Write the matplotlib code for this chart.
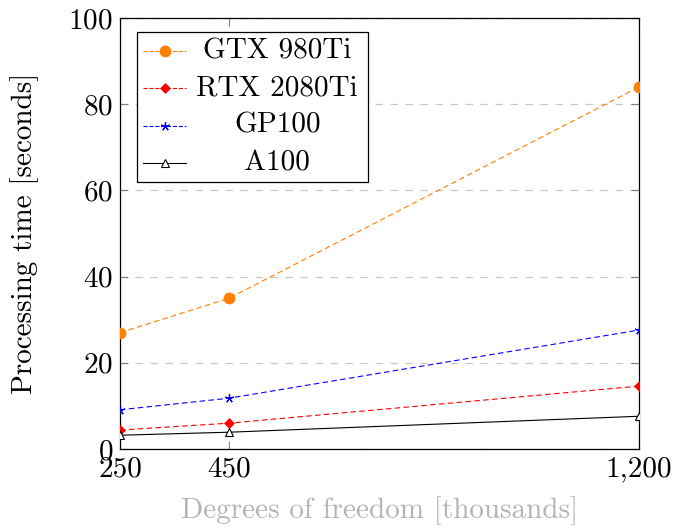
import matplotlib
matplotlib.use('Agg')
import matplotlib.pyplot as plt
from matplotlib.lines import Line2D
from matplotlib.patches import Rectangle
from matplotlib.ticker import FuncFormatter

plt.rcParams['font.family'] = 'cmr10'
plt.rcParams['mathtext.fontset'] = 'cm'
plt.rcParams['axes.formatter.use_mathtext'] = True

# data
dofs = [250, 450, 1200]
gtx980 = [27.0, 35.0, 84.0]
rtx2080 = [4.4, 6.0, 14.6]
gp100 = [9.1, 11.8, 27.6]
a100 = [3.2, 3.9, 7.6]

series_names = ['GTX 980Ti', 'RTX 2080Ti', 'GP100', 'A100']
series_vals = [gtx980, rtx2080, gp100, a100]
colors = ['#ff8000', 'red', 'blue', 'black']
markers = ['o', 'D', (5, 2, 0), '^']
styles = [(0, (5, 3)), (0, (5, 3)), (0, (5, 3)), '-']
msizes = [8, 5.5, 6.5, 6]
filled = [True, True, True, False]

FS = 21

fig = plt.figure(figsize=(6.73, 5.29), dpi=100)
ax = fig.add_axes([0.1783, 0.1512, 0.7712, 0.8148])

handles = []
for name, vals, c, m, ls, ms, f in zip(series_names, series_vals, colors, markers, styles, msizes, filled):
    ln, = ax.plot(dofs, vals, color=c, ls=ls, lw=0.8, marker=m, ms=ms,
                  mfc=c if f else 'white', mec=c, mew=0.8 if not f else 0.5, zorder=3)
    handles.append(ln)
handles[2].set_markeredgewidth(0.9)

ax.set_xlim(250, 1200)
ax.set_ylim(0, 100)
ax.set_xticks(dofs)
ax.xaxis.set_major_formatter(FuncFormatter(lambda v, p: '{:,}'.format(int(v))))
ax.set_yticks([0, 20, 40, 60, 80, 100])
ax.yaxis.grid(True, ls=(0, (6, 6)), color='#c8c8c8', lw=0.9)
ax.set_axisbelow(True)
ax.tick_params(direction='in', top=True, right=True, length=6, width=0.8,
               color='#808080', labelsize=FS, pad=5)
for sp in ax.spines.values():
    sp.set_linewidth(0.9)

ax.set_ylabel('Processing time [seconds]', fontsize=FS, labelpad=21)
ax.set_xlabel('Degrees of freedom [thousands]', fontsize=FS, color='#b4b4b4', labelpad=10)

# legend drawn by hand so the entries are centred like pgfplots
x0, y0, w, h = 0.033, 0.62, 0.445, 0.347
ax.add_patch(Rectangle((x0, y0), w, h, transform=ax.transAxes, fill=True,
                       facecolor='white', edgecolor='black', lw=0.9, zorder=5))
row_h = h / 4
for i, hd in enumerate(handles):
    yy = y0 + h - row_h * (i + 0.5)
    ax.add_line(Line2D([x0 + 0.012, x0 + 0.095], [yy, yy], transform=ax.transAxes,
                       color=hd.get_color(), ls=hd.get_linestyle(), lw=0.8, zorder=6))
    ax.add_line(Line2D([x0 + 0.0535], [yy], transform=ax.transAxes, marker=hd.get_marker(),
                       ms=hd.get_markersize(), mfc=hd.get_markerfacecolor(),
                       mec=hd.get_markeredgecolor(), mew=hd.get_markeredgewidth(), zorder=7))
    ax.text(x0 + 0.27, yy, series_names[i], transform=ax.transAxes, ha='center',
            va='center', fontsize=FS, zorder=7)

fig.savefig('out.png', dpi=100)
